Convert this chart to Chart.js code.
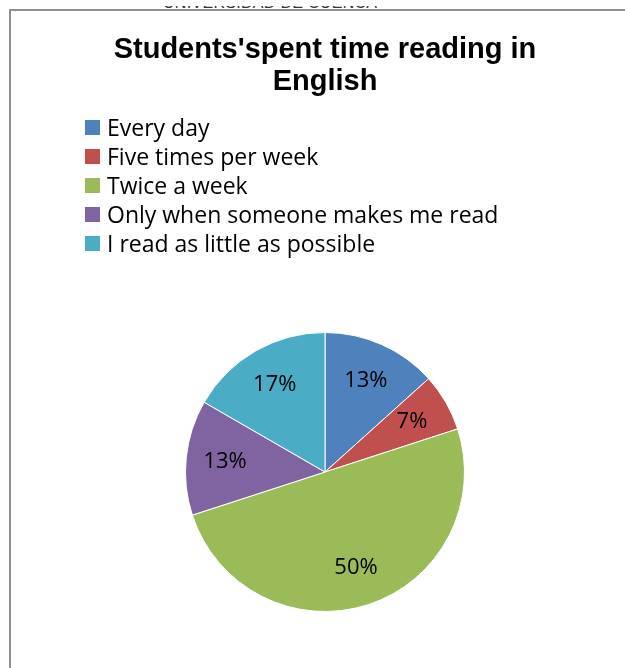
<!DOCTYPE html>
<html>
<head>
<meta charset="utf-8">
<script src="https://cdn.jsdelivr.net/npm/chart.js@4"></script>
<style>
  html, body { margin: 0; padding: 0; background: #fff; overflow: hidden; }
  #page { position: relative; width: 625px; height: 668px; overflow: hidden; background: #fff; }
  #header {
    position: absolute; left: 0; top: 6px; width: 625px; height: 3px; overflow: hidden;
  }
  #header span {
    position: absolute; left: 163px; top: -12.5px; line-height: 18px;
    font: 16px "Liberation Sans", Arial, sans-serif; color: #333; white-space: nowrap; letter-spacing: 0.3px;
  }
  #frame {
    position: absolute; left: 9px; top: 9px; width: 700px; height: 700px;
    border-left: 2px solid #8f8f8f; border-top: 2px solid #8f8f8f;
  }
  #chart { position: absolute; left: 0; top: 0; }
  #legend {
    position: absolute; left: 85px; top: 113px; margin: 0; padding: 0; list-style: none;
    font: 23px "Open Sans", sans-serif; color: #000;
  }
  #legend li { display: flex; align-items: center; height: 29px; line-height: 29px; white-space: nowrap; }
  #legend .box { width: 15px; height: 15px; margin-right: 7px; flex: none; }
</style>
</head>
<body>
<div id="page">
  <div id="header"><span>UNIVERSIDAD DE CUENCA</span></div>
  <div id="frame"></div>
  <canvas id="chart" width="625" height="668"></canvas>
  <ul id="legend"></ul>
</div>
<script>
// Survey answers: how often students read in English (number of students)
const categories = [
  'Every day',
  'Five times per week',
  'Twice a week',
  'Only when someone makes me read',
  'I read as little as possible'
];
const students = [4, 2, 15, 4, 5];
const sliceColors = ['#4F81BD', '#C0504D', '#9BBB59', '#8064A2', '#4BACC6'];
const chartTitle = ["Students'spent time reading in", 'English'];

const total = students.reduce((a, b) => a + b, 0);
const percentLabel = v => Math.round(v / total * 100) + '%';

// Percentage labels placed inside each slice
const sliceLabels = {
  id: 'sliceLabels',
  afterDatasetsDraw(chart) {
    const ctx = chart.ctx;
    const meta = chart.getDatasetMeta(0);
    const values = chart.data.datasets[0].data;
    ctx.save();
    ctx.font = '22px "Open Sans", sans-serif';
    ctx.fillStyle = '#000';
    ctx.textAlign = 'center';
    ctx.textBaseline = 'middle';
    meta.data.forEach((arc, i) => {
      const p = arc.getProps(['x', 'y', 'startAngle', 'endAngle', 'outerRadius'], true);
      const mid = (p.startAngle + p.endAngle) / 2;
      const r = p.outerRadius * 0.72;
      ctx.fillText(percentLabel(values[i]), p.x + Math.cos(mid) * r, p.y + Math.sin(mid) * r);
    });
    ctx.restore();
  }
};

const chart = new Chart(document.getElementById('chart'), {
  type: 'pie',
  data: {
    labels: categories,
    datasets: [{
      data: students,
      backgroundColor: sliceColors,
      borderColor: '#ffffff',
      borderWidth: 1
    }]
  },
  options: {
    responsive: false,
    animation: false,
    layout: { padding: { left: 25, right: 0, top: 0, bottom: 56 } },
    plugins: {
      legend: { display: false },
      tooltip: { enabled: false },
      title: {
        display: true,
        text: chartTitle,
        color: '#000',
        font: { family: '"Liberation Sans", Arial, sans-serif', size: 29, weight: 'bold', lineHeight: 32 / 29 },
        padding: { top: 34, bottom: 234 }
      }
    }
  },
  plugins: [sliceLabels]
});

// Legend list built from the chart's own legend items
const legendEl = document.getElementById('legend');
Chart.overrides.pie.plugins.legend.labels.generateLabels(chart).forEach(item => {
  const li = document.createElement('li');
  const box = document.createElement('span');
  box.className = 'box';
  box.style.background = item.fillStyle;
  li.appendChild(box);
  li.appendChild(document.createTextNode(item.text));
  legendEl.appendChild(li);
});
</script>
</body>
</html>
